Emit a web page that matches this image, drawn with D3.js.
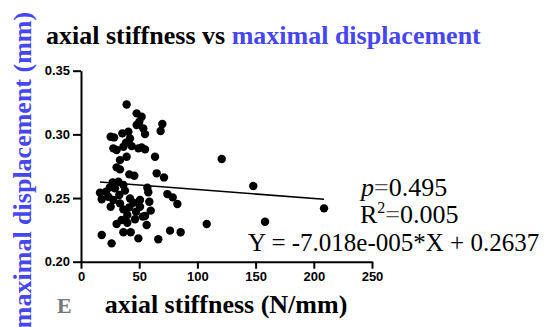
<!DOCTYPE html>
<html>
<head>
<meta charset="utf-8">
<script src="https://cdn.jsdelivr.net/npm/d3@7"></script>
<style>
  body { margin: 0; background: #fff; }
  svg { display: block; }
</style>
</head>
<body>
<div class="chart"></div>
<script>
// axial stiffness (N/mm)
var stiffness = [39.2, 47.8, 52.1, 50.1, 47.8, 53.5, 55.0, 69.9, 68.4, 25.5,
    28.4, 35.5, 40.7, 42.1, 38.7, 43.5, 27.8, 30.6, 36.4, 49.3,
    52.1, 55.0, 33.5, 39.2, 30.6, 33.5, 63.6, 41.5, 45.8, 65.0,
    71.3, 120.9, 148.0, 27.2, 24.9, 29.2, 36.4, 37.8, 16.3, 17.8,
    23.5, 25.5, 57.0, 57.8, 74.2, 78.8, 82.8, 42.1, 45.0, 50.7,
    58.7, 33.5, 36.4, 41.5, 39.8, 47.3, 50.7, 55.0, 59.9, 30.6,
    34.9, 39.8, 46.4, 53.0, 56.4, 108.0, 158.1, 17.8, 26.3, 36.4,
    42.7, 49.3, 66.4, 76.5, 85.6, 32.1, 21.5, 32.9, 27.8, 208.8];
// maximal displacement (mm)
var displacement = [0.3235, 0.3165, 0.3139, 0.3099, 0.3073, 0.3047, 0.3002, 0.3081, 0.3026, 0.2981,
    0.2976, 0.3008, 0.3021, 0.2968, 0.2934, 0.2908, 0.2890, 0.2877, 0.2903, 0.2890,
    0.2898, 0.2882, 0.2798, 0.2824, 0.2741, 0.2725, 0.2824, 0.2686, 0.2675, 0.2694,
    0.2662, 0.2806, 0.2594, 0.2623, 0.2584, 0.2576, 0.2602, 0.2558, 0.2542, 0.2490,
    0.2510, 0.2432, 0.2581, 0.2545, 0.2531, 0.2505, 0.2453, 0.2497, 0.2463, 0.2484,
    0.2471, 0.2458, 0.2411, 0.2427, 0.2367, 0.2393, 0.2432, 0.2359, 0.2401, 0.2296,
    0.2327, 0.2306, 0.2333, 0.2354, 0.2288, 0.2296, 0.2314, 0.2210, 0.2144, 0.2231,
    0.2231, 0.2183, 0.2176, 0.2244, 0.2231, 0.2628, 0.2550, 0.2524, 0.2484, 0.2419];

var xTicks = [0, 50, 100, 150, 200, 250];
var yTicks = [0.20, 0.25, 0.30, 0.35];

// linear fit as printed on the chart
var slope = -7.018e-005, intercept = 0.2637;
var statLines = ["0.495", "0.005", "Y = -7.018e-005*X + 0.2637"];

var data = stiffness.map(function (d, i) { return { x: d, y: displacement[i] }; });

var width = 558, height = 327;
var blue = "#4646f5";
var serif = "'Liberation Serif', 'Times New Roman', serif";
var sans = "'Liberation Sans', Arial, sans-serif";

var svg = d3.select(".chart").append("svg")
    .attr("width", width)
    .attr("height", height);

var x = d3.scaleLinear().domain([0, 250]).range([81, 372]);
var y = d3.scaleLinear().domain([0.20, 0.35]).range([261.7, 70.7]);

// x axis
var gx = svg.append("g")
    .attr("transform", "translate(0," + y(0.20) + ")")
    .call(d3.axisBottom(x).tickValues(xTicks).tickSize(7).tickPadding(3)
        .tickFormat(d3.format("d")).tickSizeOuter(0));

// y axis
var gy = svg.append("g")
    .attr("transform", "translate(" + x(0) + ",0)")
    .call(d3.axisLeft(y).tickValues(yTicks).tickSize(8).tickPadding(3)
        .tickFormat(d3.format(".2f")).tickSizeOuter(0));

[gx, gy].forEach(function (g) {
    g.select(".domain").attr("stroke", "#000").attr("stroke-width", 2);
    g.selectAll(".tick line").attr("stroke", "#000").attr("stroke-width", 2);
    g.selectAll(".tick text")
        .attr("fill", "#000")
        .style("font-family", sans)
        .style("font-weight", "bold")
        .style("font-size", "13px");
});

// points
svg.append("g").selectAll("circle")
    .data(data)
    .enter().append("circle")
    .attr("cx", function (d) { return x(d.x); })
    .attr("cy", function (d) { return y(d.y); })
    .attr("r", 4.2)
    .attr("fill", "#000");

// regression line over the data range
var xr = d3.extent(stiffness);
svg.append("line")
    .attr("x1", x(xr[0])).attr("y1", y(slope * xr[0] + intercept))
    .attr("x2", x(xr[1])).attr("y2", y(slope * xr[1] + intercept))
    .attr("stroke", "#000")
    .attr("stroke-width", 1.6);

// title
var title = svg.append("text")
    .attr("x", 46).attr("y", 44)
    .style("font-family", serif)
    .style("font-weight", "bold")
    .style("font-size", "26px");
title.append("tspan").attr("fill", "#000").text("axial stiffness vs ");
title.append("tspan").attr("fill", blue).text("maximal displacement");

// axis labels
svg.append("text")
    .attr("x", 226).attr("y", 313)
    .style("text-anchor", "middle")
    .style("font-family", serif)
    .style("font-weight", "bold")
    .style("font-size", "26px")
    .attr("fill", "#000")
    .text("axial stiffness (N/mm)");

svg.append("text")
    .attr("transform", "translate(31,170) rotate(-90)")
    .style("text-anchor", "middle")
    .style("font-family", serif)
    .style("font-weight", "bold")
    .style("font-size", "26px")
    .attr("fill", blue)
    .text("maximal displacement (mm)");

// panel letter
svg.append("text")
    .attr("x", 57).attr("y", 313)
    .style("font-family", serif)
    .style("font-weight", "bold")
    .style("font-size", "22px")
    .attr("fill", "#777")
    .text("E");

// statistics
var pText = svg.append("text")
    .attr("x", 361).attr("y", 196)
    .style("font-family", serif)
    .style("font-size", "26px")
    .attr("fill", "#000");
pText.append("tspan").style("font-style", "italic").text("p");
pText.append("tspan").attr("fill", "#555").text("=");
pText.append("tspan").text(statLines[0]);

var rText = svg.append("text")
    .attr("x", 360).attr("y", 223)
    .style("font-family", serif)
    .style("font-size", "26px")
    .attr("fill", "#000");
rText.append("tspan").text("R");
rText.append("tspan").attr("dy", -10).style("font-size", "16px").text("2");
rText.append("tspan").attr("dy", 10).attr("fill", "#555").text("=");
rText.append("tspan").text(statLines[1]);

svg.append("text")
    .attr("x", 248).attr("y", 251)
    .style("font-family", serif)
    .style("font-size", "25px")
    .attr("fill", "#000")
    .text(statLines[2]);
</script>
</body>
</html>
